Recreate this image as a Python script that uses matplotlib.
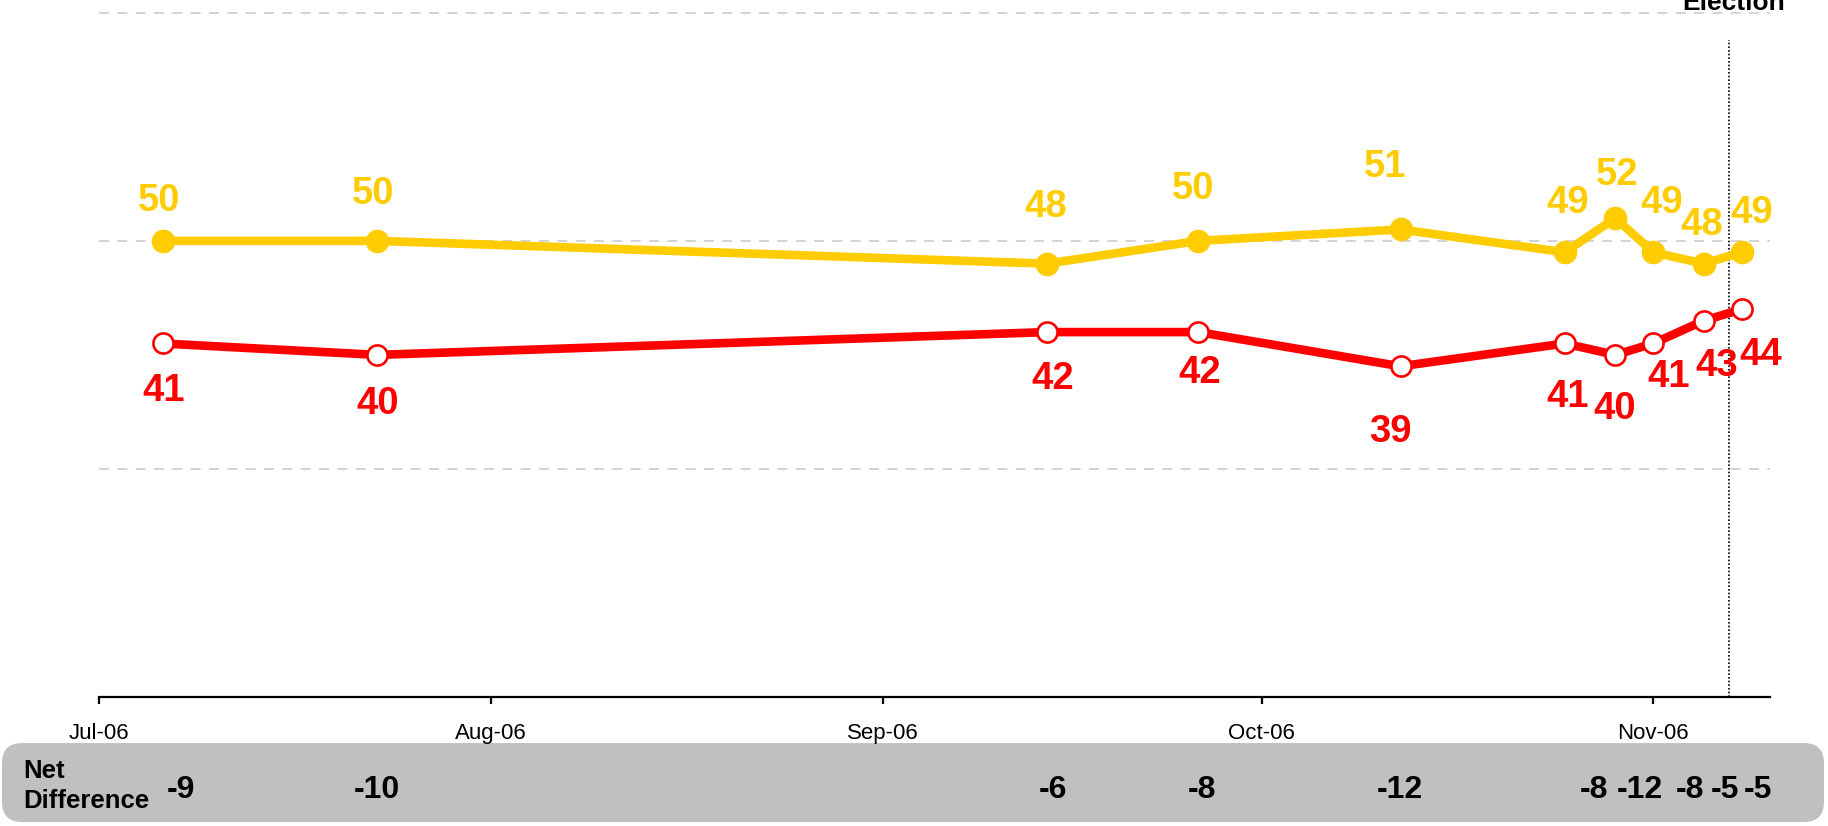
import matplotlib
matplotlib.use("Agg")
import matplotlib.pyplot as plt
import matplotlib.dates as mdates
from matplotlib.patches import FancyBboxPatch
import pandas as pd

plt.rcParams['font.family'] = ['Liberation Sans', 'DejaVu Sans']

# poll data
dates = pd.to_datetime(['2006-07-06', '2006-07-23', '2006-09-14', '2006-09-26',
                        '2006-10-12', '2006-10-25', '2006-10-29', '2006-11-01',
                        '2006-11-05', '2006-11-08'])
yellow_vals = [50, 50, 48, 50, 51, 49, 52, 49, 48, 49]
red_vals = [41, 40, 42, 42, 39, 41, 40, 41, 43, 44]
election_day = pd.Timestamp('2006-11-07')
tick_dates = pd.to_datetime(['2006-07-01', '2006-08-01', '2006-09-01',
                             '2006-10-01', '2006-11-01'])
grid_levels = [30, 50, 70]

# label offsets in pixels (dx, dy)
yellow_off = [(-4, 40), (-4, 47), (-1, 57), (-5, 52), (-15, 62),
              (3, 49), (2, 43), (8, 49), (-2, 39), (10, 39)]
red_off = [(1, -48), (0, -49), (6, -47), (1, -41), (-10, -66),
           (3, -54), (-1, -54), (15, -34), (13, -45), (19, -46)]
net_dx = [18, 0, 6, 4, -1, 29, 25, 37, 21, 16]

YELLOW = '#FFCC00'
RED = '#FF0000'

fig = plt.figure(figsize=(18.28, 8.26), dpi=100)

# net difference band behind everything
box = FancyBboxPatch((0.0011, 0.0048), 0.9967, 0.0956,
                     boxstyle='round,pad=0,rounding_size=0.011',
                     mutation_aspect=1828 / 826, transform=fig.transFigure,
                     facecolor='#C0C0C0', edgecolor='none', zorder=-5)
fig.patches.append(box)

ax = fig.add_axes([0.0544, 0.1562, 0.9139, 0.8283])
ax.patch.set_alpha(0)

for lev in grid_levels:
    ax.axhline(lev, color='#CCCCCC', lw=1.2, ls=(0, (6, 5)), zorder=1, clip_on=False)

ax.axvline(election_day, ymax=0.96, color='black', lw=1.2, ls=(0, (1, 1.2)), zorder=2)

ax.plot(dates, yellow_vals, color=YELLOW, lw=6.2, marker='o', ms=16,
        mfc=YELLOW, mec=YELLOW, zorder=3, solid_capstyle='butt')
ax.plot(dates, red_vals, color=RED, lw=6.2, marker='o', ms=14.5,
        mfc='white', mec=RED, mew=1.9, zorder=4, solid_capstyle='butt')

for d, v, (dx, dy) in zip(dates, yellow_vals, yellow_off):
    ax.annotate(str(v), xy=(d, v), xytext=(dx, dy), textcoords='offset pixels',
                ha='center', va='center', fontsize=27.5, fontweight='bold',
                color=YELLOW, zorder=5)
for d, v, (dx, dy) in zip(dates, red_vals, red_off):
    ax.annotate(str(v), xy=(d, v), xytext=(dx, dy), textcoords='offset pixels',
                ha='center', va='center', fontsize=27.5, fontweight='bold',
                color=RED, zorder=5)

ax.set_ylim(10, 70)
ax.set_xlim(pd.Timestamp('2006-07-01'), pd.Timestamp('2006-11-10 06:00'))
ax.set_yticks([])
for s in ['left', 'right', 'top']:
    ax.spines[s].set_visible(False)
ax.spines['bottom'].set_linewidth(1.6)
ax.set_xticks(tick_dates)
ax.xaxis.set_major_formatter(mdates.DateFormatter('%b-%y'))
ax.tick_params(axis='x', length=5, width=1.6, pad=13.5, labelsize=16)

fig.text(23 / 1828, 1 - 786 / 826, 'Net\nDifference', ha='left', va='center',
         fontsize=18.5, fontweight='bold', linespacing=1.35)

for d, y, r, dx in zip(dates, yellow_vals, red_vals, net_dx):
    ax.annotate(str(r - y), xy=(d, 1 - 790 / 826),
                xycoords=('data', 'figure fraction'),
                xytext=(dx, 0), textcoords='offset pixels',
                ha='center', va='center', fontsize=23, fontweight='bold',
                color='black', annotation_clip=False)

fig.text(1785 / 1828, 1 - 10 / 826, 'Election', ha='right', va='baseline',
         fontsize=19, fontweight='bold')

fig.savefig('out.png', dpi=100)
